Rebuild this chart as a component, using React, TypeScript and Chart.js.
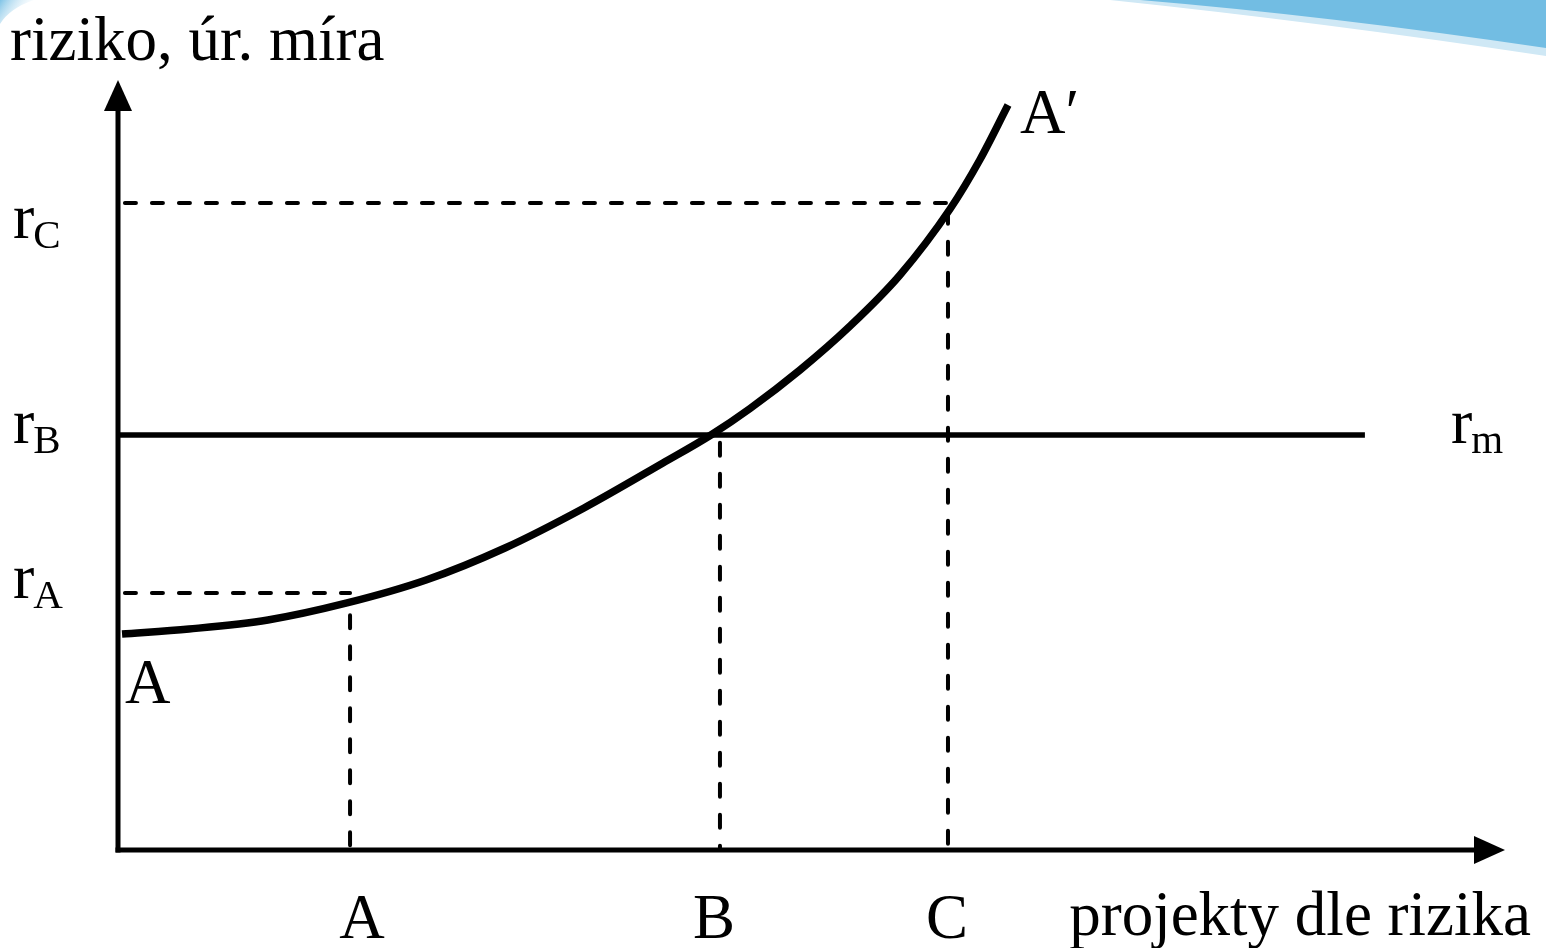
import React, { useEffect, useRef } from "react";
import { Chart, registerables } from "chart.js";

Chart.register(...registerables);

// Curve A–A′ (x: projects ordered by risk, y: risk / interest rate), arbitrary units 0..100
const curveX = [0.29, 5.12, 10.81, 16.51, 22.21, 27.9, 33.6, 39.29, 42.75, 45.57, 49.17, 52.78, 56.38, 59.99, 62.15, 64.17];
const curveY = [28.05, 28.7, 29.87, 32.08, 35.06, 39.22, 44.42, 50.26, 53.9, 57.34, 62.34, 68.05, 74.68, 83.25, 89.68, 96.75];

// Market rate line r_m
const rmY = 53.9;
const rmXEnd = 89.9;

// Reference projects A, B, C and their rates
const projectNames = ["A", "B", "C"];
const projectX = [16.73, 43.4, 59.84];
const rateNames = ["A", "B", "C"];
const rateY = [33.38, 53.9, 84.03];

const yAxisTitle = "riziko, úr. míra";
const xAxisTitle = "projekty dle rizika";

const FONT = '"Liberation Serif", "Times New Roman", serif';

const pts = (xs: number[], ys: number[]) => xs.map((x, i) => ({ x, y: ys[i] }));

export default function App() {
  const ref = useRef<HTMLCanvasElement | null>(null);

  useEffect(() => {
    if (!ref.current) return;
    const hDash = {
      borderColor: "#000",
      borderWidth: 4,
      borderDash: [11, 16],
      borderCapStyle: "round",
      pointRadius: 0,
      showLine: true,
      clip: false as const,
    };
    const vDash = { ...hDash, borderDash: [13, 18] };

    const decoPlugin = {
      id: "deco",
      beforeDraw(chart: any) {
        const ctx = chart.ctx;
        ctx.save();
        ctx.fillStyle = "#fff";
        ctx.fillRect(0, 0, chart.width, chart.height);
        ctx.fillStyle = "#cfe8f5";
        ctx.beginPath();
        ctx.moveTo(1110, 0);
        ctx.lineTo(1546, 0);
        ctx.lineTo(1546, 56);
        ctx.quadraticCurveTo(1320, 22, 1110, 0);
        ctx.closePath();
        ctx.fill();
        ctx.fillStyle = "#72bde3";
        ctx.beginPath();
        ctx.moveTo(1140, 0);
        ctx.lineTo(1546, 0);
        ctx.lineTo(1546, 48);
        ctx.quadraticCurveTo(1330, 16, 1140, 0);
        ctx.closePath();
        ctx.fill();
        const g = ctx.createLinearGradient(0, 0, 30, 20);
        g.addColorStop(0, "#7fc3e6");
        g.addColorStop(1, "rgba(255,255,255,0)");
        ctx.fillStyle = g;
        ctx.beginPath();
        ctx.moveTo(0, 0);
        ctx.lineTo(34, 0);
        ctx.quadraticCurveTo(10, 8, 0, 24);
        ctx.closePath();
        ctx.fill();
        ctx.restore();
      },
      afterDraw(chart: any) {
        const ctx = chart.ctx;
        const xs = chart.scales.x;
        const ys = chart.scales.y;
        const x0 = xs.getPixelForValue(0);
        const y0 = ys.getPixelForValue(0);
        const top = ys.getPixelForValue(100);
        const right = xs.getPixelForValue(100);
        ctx.save();
        ctx.strokeStyle = "#000";
        ctx.fillStyle = "#000";
        ctx.lineWidth = 5;
        ctx.lineCap = "butt";
        ctx.beginPath();
        ctx.moveTo(x0, y0 + 2.5);
        ctx.lineTo(x0, top + 25);
        ctx.stroke();
        ctx.beginPath();
        ctx.moveTo(x0 - 2.5, y0);
        ctx.lineTo(right - 25, y0);
        ctx.stroke();
        ctx.beginPath();
        ctx.moveTo(x0, top);
        ctx.lineTo(x0 - 14, top + 31);
        ctx.lineTo(x0 + 14, top + 31);
        ctx.closePath();
        ctx.fill();
        ctx.beginPath();
        ctx.moveTo(right, y0);
        ctx.lineTo(right - 31, y0 - 14);
        ctx.lineTo(right - 31, y0 + 14);
        ctx.closePath();
        ctx.fill();

        ctx.textBaseline = "alphabetic";
        ctx.font = `63px ${FONT}`;
        ctx.textAlign = "left";
        ctx.fillText(yAxisTitle, 10, 60);
        ctx.textAlign = "right";
        ctx.fillText(xAxisTitle, 1531, 935);

        const xOff = [12, -6, -1];
        ctx.textAlign = "center";
        projectNames.forEach((n, i) => {
          ctx.fillText(n, xs.getPixelForValue(projectX[i]) + xOff[i], 938);
        });

        const yOff = [5, 8, 35];
        rateNames.forEach((n, i) => {
          const py = ys.getPixelForValue(rateY[i]) + yOff[i];
          ctx.textAlign = "left";
          ctx.font = `64px ${FONT}`;
          ctx.fillText("r", 13, py);
          const w = ctx.measureText("r").width;
          ctx.font = `41px ${FONT}`;
          ctx.fillText(n, 13 + w - 1, py + 10);
        });

        ctx.font = `63px ${FONT}`;
        ctx.textAlign = "left";
        ctx.fillText("A", xs.getPixelForValue(curveX[0]) + 3, 703);
        const last = curveX.length - 1;
        ctx.fillText("A\u2032", xs.getPixelForValue(curveX[last]) + 12, 133);

        const rmPy = ys.getPixelForValue(rmY) + 8;
        ctx.font = `64px ${FONT}`;
        ctx.fillText("r", 1451, rmPy);
        const wr = ctx.measureText("r").width;
        ctx.font = `41px ${FONT}`;
        ctx.fillText("m", 1451 + wr - 1, rmPy + 10);
        ctx.restore();
      },
    };

    const chart = new Chart(ref.current, {
      type: "scatter",
      data: {
        datasets: [
          { ...hDash, data: [{ x: 0.5, y: rateY[0] }, { x: projectX[0], y: rateY[0] }] },
          { ...vDash, data: [{ x: projectX[0], y: 30.5 }, { x: projectX[0], y: 0 }] },
          { ...vDash, data: [{ x: projectX[1], y: rateY[1] - 1 }, { x: projectX[1], y: 0 }] },
          { ...hDash, data: [{ x: 0.5, y: rateY[2] }, { x: projectX[2], y: rateY[2] }] },
          { ...vDash, data: [{ x: projectX[2], y: rateY[2] - 1 }, { x: projectX[2], y: 0 }] },
          {
            data: [
              { x: 0, y: rmY },
              { x: rmXEnd, y: rmY },
            ],
            showLine: true,
            borderColor: "#000",
            borderWidth: 5.5,
            pointRadius: 0,
            clip: false,
          },
          {
            data: pts(curveX, curveY),
            showLine: true,
            borderColor: "#000",
            borderWidth: 7.5,
            pointRadius: 0,
            cubicInterpolationMode: "monotone",
            clip: false,
          },
        ] as any,
      },
      options: {
        animation: false,
        responsive: true,
        maintainAspectRatio: false,
        layout: { padding: { left: 118, right: 41, top: 80, bottom: 98 } },
        plugins: { legend: { display: false }, tooltip: { enabled: false } },
        events: [],
        scales: {
          x: { type: "linear", min: 0, max: 100, display: false },
          y: { type: "linear", min: 0, max: 100, display: false },
        },
      },
      plugins: [decoPlugin],
    });
    return () => chart.destroy();
  }, []);

  return (
    <div style={{ position: "absolute", left: 0, top: 0, width: 1546, height: 948, background: "#fff" }}>
      <canvas ref={ref} />
    </div>
  );
}
